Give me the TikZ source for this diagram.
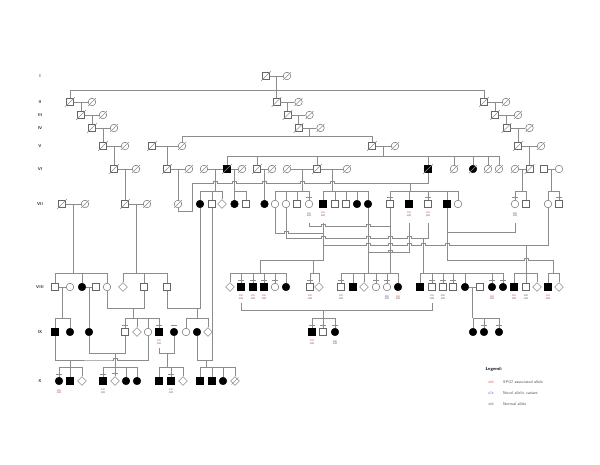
\documentclass[tikz,border=0pt]{standalone}
\usepackage{tikz}
\usetikzlibrary{shapes.geometric,calc}
\definecolor{spg}{RGB}{235,85,85}
\definecolor{nov}{RGB}{85,85,225}
\tikzstyle{link} = [draw=black!45, line width=0.45pt]
\tikzstyle{ind} = [draw=black!60, line width=0.45pt, inner sep=0pt, fill=white]
\tikzstyle{msq} = [ind, rectangle, minimum size=7pt]
\tikzstyle{fci} = [ind, circle, minimum size=7.6pt]
\tikzstyle{udi} = [ind, diamond, minimum size=9pt]
\tikzstyle{aff} = [fill=black, draw=black]
\tikzstyle{car} = [path picture={\fill (path picture bounding box.center) circle (0.9pt);}]
\tikzstyle{dec} = [append after command={(\tikzlastnode.south west) edge[link, shorten <=-1.6pt, shorten >=-1.6pt] (\tikzlastnode.north east)}]
\tikzstyle{gen} = [font=\sffamily\bfseries\fontsize{4.2}{5}\selectfont, text=black!80]
\tikzstyle{gtx} = [font=\sffamily\fontsize{2.6}{2.8}\selectfont, align=center, inner sep=0pt, text=black!60]
\tikzstyle{lgt} = [font=\sffamily\fontsize{4}{4.5}\selectfont, inner sep=0pt, anchor=west, text=black!70]

\newcommand{\mal}[4][]{\node[msq,#1] (#2) at (#3,#4) {};}
\newcommand{\fem}[4][]{\node[fci,#1] (#2) at (#3,#4) {};}
\newcommand{\unk}[4][]{\node[udi,#1] (#2) at (#3,#4) {};}
\newcommand{\cpl}[2]{\draw[link] (#1) -- (#2);}
\newcommand{\kid}[3]{\draw[link] ($(#1)!.5!(#2)$) -- (#3);}
% little bridge where a line jumps over another
\newcommand{\hop}[2]{-- ({#1-2},#2) -- ({#1-2},{#2-2}) -- ({#1+2},{#2-2}) -- ({#1+2},#2)}
\newcommand{\tick}[1]{\draw[link] ($(#1.north)+(-3.2,-3)$) -- ++(6.4,0);}
\newcommand{\gt}[3]{\node[gtx] at ($(#1.south)+(0,6.5)$) {\textcolor{#2}{486}\\[-0.4pt]\textcolor{#3}{488}};}

\begin{document}
\begin{tikzpicture}[x=1pt, y=-1pt]
\useasboundingbox (0,0) rectangle (600,464);

% generations
\foreach \g/\y in {I/76,II/102,III/115,IV/128,V/146,VI/169,VII/204,VIII/287,IX/332,X/381}
  \node[gen] (g\g) at (40,\y) {\g};

% I
\mal[dec]{a1}{266}{76} \fem[dec]{a2}{287}{76}
\cpl{a1}{a2}

% II
\mal[dec]{b1}{70}{102} \fem[dec]{b2}{92}{102}
\mal[dec]{b3}{276.5}{102} \fem[dec]{b4}{298.5}{102}
\mal[dec]{b5}{484}{102} \fem[dec]{b6}{506}{102}
\cpl{b1}{b2} \cpl{b3}{b4} \cpl{b5}{b6}
\draw[link] ($(a1)!.5!(a2)$) -- (b3);
\draw[link] (b1.north) |- (b5 |- 0,90) -- (b5.north);

% III
\mal[dec]{c1}{81}{115} \fem[dec]{c2}{103}{115}
\mal[dec]{c3}{287.5}{115} \fem[dec]{c4}{309.5}{115}
\mal[dec]{c5}{495}{115} \fem[dec]{c6}{518}{115}
\cpl{c1}{c2} \cpl{c3}{c4} \cpl{c5}{c6}
\kid{b1}{b2}{c1} \kid{b3}{b4}{c3} \kid{b5}{b6}{c5}

% IV
\mal[dec]{d1}{92}{128} \fem[dec]{d2}{114}{128}
\mal[dec]{d3}{298.5}{128} \fem[dec]{d4}{320.5}{128}
\mal[dec]{d5}{506.5}{128} \fem[dec]{d6}{529.5}{128}
\cpl{d1}{d2} \cpl{d3}{d4} \cpl{d5}{d6}
\kid{c1}{c2}{d1} \kid{c3}{c4}{d3} \kid{c5}{c6}{d5}

% V
\mal[dec]{e1}{103}{146} \fem[dec]{e2}{125}{146}
\mal[dec]{e3}{152}{146} \fem[dec]{e4}{182}{146}
\mal[dec]{e5}{372}{146} \fem[dec]{e6}{395}{146}
\mal[dec]{e7}{518}{146} \fem[dec]{e8}{541}{146}
\cpl{e1}{e2} \cpl{e3}{e4} \cpl{e5}{e6} \cpl{e7}{e8}
\kid{d1}{d2}{e1} \kid{d5}{d6}{e7}
\draw[link] ($(d3)!.5!(d4)$) -- (309.5,136);
\draw[link] (e4.north) |- (e5 |- 0,136) -- (e5.north);

% VI
\mal[dec]{f1}{114}{169} \fem[dec]{f2}{136}{169}
\mal[dec]{f3}{167}{169} \fem[dec]{f4}{189}{169}
\fem[dec]{f5}{204}{169} \mal[aff,dec]{f6}{227}{169} \fem[dec]{f7}{242}{169}
\mal[dec]{f8}{257}{169} \fem[dec]{f9}{272}{169}
\fem[dec]{f10}{287}{169} \mal[dec]{f11}{317}{169} \fem[dec]{f12}{347}{169}
\mal[aff,dec]{f13}{428}{169}
\fem[dec]{f14}{454}{169} \fem[aff,dec]{f15}{473}{169} \fem[dec]{f16}{488}{169} \fem[dec]{f17}{499}{169}
\fem[dec]{f18}{515}{169} \mal[dec]{f19}{529.5}{169}
\mal{f20}{544}{169} \fem{f21}{559}{169}
\cpl{f1}{f2} \cpl{f3}{f4} \cpl{f5}{f6} \cpl{f6}{f7} \cpl{f8}{f9}
\cpl{f10}{f11} \cpl{f11}{f12} \cpl{f18}{f19} \cpl{f20}{f21}
\kid{e1}{e2}{f1} \kid{e3}{e4}{f3} \kid{e7}{e8}{f19}
\draw[link] ($(e5)!.5!(e6)$) -- (383.5,156);
\draw[link] (f6.north) |- (f17 |- 0,156) -- (f17.north);
\foreach \n in {f8,f11,f13,f14,f15,f16} \draw[link] (\n.north) -- (\n |- 0,156);

% VII
\mal[dec]{g1}{62}{204} \fem[dec]{g2}{85}{204}
\mal[dec]{g3}{125}{204} \fem[dec]{g4}{147}{204}
\fem[dec]{g5}{178}{204}
\fem[aff]{g6}{200}{204} \mal{g7}{212}{204} \unk{g8}{222}{204} \fem[aff]{g9}{234.5}{204} \mal{g10}{246}{204}
\fem[aff]{g11}{264.5}{204}
\fem{g12}{275}{204} \fem{g13}{286}{204} \mal{g14}{297}{204} \fem[car]{g15}{309}{204}
\mal[aff]{g16}{323}{204} \mal{g17}{335}{204} \mal{g18}{346}{204} \fem[aff]{g19}{357}{204} \fem[aff]{g20}{368}{204}
\mal{g21}{390}{204} \mal[aff]{g22}{409}{204} \mal[car]{g23}{428}{204} \mal[aff]{g24}{447}{204} \fem{g25}{458}{204}
\fem{g26}{515}{204} \mal{g27}{526}{204} \fem{g28}{548}{204} \mal{g29}{559}{204}
\cpl{g1}{g2} \cpl{g3}{g4}
\kid{f1}{f2}{g3} \kid{f3}{f4}{g5} \kid{f8}{f9}{g11}
\draw[link] ($(f5)!.5!(f6)$) -- (215.5,191);
\draw[link] (g6.north) |- (g8 |- 0,191) -- (g8.north);
\draw[link] (g7.north) -- (g7 |- 0,191);
\draw[link] ($(f6)!.5!(f7)$) -- (234.5,191);
\draw[link] (g9.north) |- (g10 |- 0,191) -- (g10.north);
\draw[link] ($(f10)!.5!(f11)$) -- (302,191);
\draw[link] (g12.north) |- (g15 |- 0,191) -- (g15.north);
\foreach \n in {g13,g14} \draw[link] (\n.north) -- (\n |- 0,191);
\draw[link] ($(f11)!.5!(f12)$) -- (332,191);
\draw[link] (g16.north) |- (g20 |- 0,191) -- (g20.north);
\foreach \n in {g17,g18,g19} \draw[link] (\n.north) -- (\n |- 0,191);
\draw[link] (g5.south) -- (178,211) -- (192,211) -- (192,183) \hop{215.5}{183} \hop{234.5}{183}
  \hop{264.5}{183} \hop{302}{183} \hop{332}{183} -- (f13 |- 0,183) -- (f13.south);
\draw[link] (410,183) -- (410,191);
\draw[link] (g21.north) |- (g25 |- 0,191) -- (g25.north);
\foreach \n in {g22,g23,g24} \draw[link] (\n.north) -- (\n |- 0,191);
\draw[link] ($(f18)!.5!(f19)$) -- (522.25,191);
\draw[link] (g26.north) |- (g27 |- 0,191) -- (g27.north);
\draw[link] ($(f20)!.5!(f21)$) -- (551.5,191);
\draw[link] (g28.north) |- (g29 |- 0,191) -- (g29.north);
\gt{g15}{spg}{nov} \gt{g16}{spg}{nov} \gt{g22}{spg}{nov} \gt{g23}{spg}{black!60} \gt{g26}{black!60}{black!60}
\foreach \n in {g15,g21,g23,g26,g29} {\tick{\n}}

% VIII
\mal{h1}{55}{287} \fem{h2}{70}{287} \fem[aff]{h3}{82}{287} \mal{h4}{96}{287} \fem{h5}{107}{287}
\unk{h6}{123}{287} \mal{h7}{144}{287} \mal{h8}{167}{287}
\unk{h9}{230}{287} \mal[aff]{h10}{241}{287} \mal[aff]{h11}{253}{287} \mal[aff]{h12}{264}{287}
\fem[car]{h13}{275}{287} \fem[aff]{h14}{286}{287}
\mal[car]{h15}{310}{287} \unk{h16}{319}{287}
\mal[car]{h17}{341}{287} \mal[aff]{h18}{353}{287} \unk{h19}{364}{287} \fem[car]{h20}{376}{287}
\fem{h21}{387}{287} \fem[aff]{h22}{398}{287}
\mal[aff]{h23}{420}{287} \mal[car]{h24}{432}{287} \mal{h25}{443}{287} \mal{h26}{453}{287}
\fem[aff]{h27}{465}{287} \mal{h28}{480}{287} \fem[aff]{h29}{492}{287} \fem[aff]{h30}{503}{287}
\mal[aff]{h31}{514}{287} \mal{h32}{526}{287} \unk{h33}{537}{287}
\mal[aff]{h34}{548}{287} \unk{h35}{559}{287}
\cpl{h1}{h2} \cpl{h3}{h4} \cpl{h27}{h28}
\draw[link] ($(g1)!.5!(g2)$) -- (73.5,273);
\draw[link] (h1.north) |- (h5 |- 0,273) -- (h5.north);
\draw[link] (h3.north) -- (h3 |- 0,273);
\draw[link] ($(g3)!.5!(g4)$) -- (136,273);
\draw[link] (h6.north) |- (h8 |- 0,273) -- (h8.north);
\draw[link] (h7.north) -- (h7 |- 0,273);
% marriages of VII routed between the rows
\draw[link] (309,223) -- (309,226) \hop{323}{226} \hop{368}{226} -- (390,226);
\draw[link] (g21.south) -- (390,273);
\draw[link] (g12.south) |- (284,233) \hop{286}{233} -- (323,233);
\draw[link] (323,223) -- (323,260) -- (260,260) -- (260,273);
\draw[link] (313,260) -- (313,273);
\draw[link] (g13.south) |- (321,238) \hop{323}{238} \hop{368}{238} \hop{390}{238} \hop{409}{238} -- (428,238) -- (428,223);
\draw[link] (423,238) -- (423,273);
\draw[link] (323,245) \hop{368}{245} \hop{390}{245} \hop{409}{245} \hop{423}{245} \hop{447}{245} -- (548,245) -- (g28.south);
\draw[link] (526,245) -- (526,273);
\draw[link] (g20.south) -- (368,273);
\draw[link] (409,223) -- (409,252) \hop{390}{252} -- (368,252);
\draw[link] (g24.south) |- (515,232) -- (515,223);
\draw[link] (447,232) -- (447,260) \hop{526}{260} -- (553,260) -- (553,273);
\draw[link] (h9.north) |- (h14 |- 0,273) -- (h14.north);
\foreach \n in {h10,h11,h12,h13} \draw[link] (\n.north) -- (\n |- 0,273);
\draw[link] (h15.north) |- (h16 |- 0,273) -- (h16.north);
\draw[link] (h17.north) |- (h22 |- 0,273) -- (h22.north);
\foreach \n in {h18,h19,h20,h21} \draw[link] (\n.north) -- (\n |- 0,273);
\draw[link] (h23.north) |- (h30 |- 0,273) -- (h30.north);
\foreach \n in {h24,h25,h26,h27,h29} \draw[link] (\n.north) -- (\n |- 0,273);
\draw[link] (h31.north) |- (h33 |- 0,273) -- (h33.north);
\draw[link] (h32.north) -- (h32 |- 0,273);
\draw[link] (h34.north) |- (h35 |- 0,273) -- (h35.north);
\gt{h10}{spg}{black!60} \gt{h11}{spg}{black!60} \gt{h12}{spg}{black!60} \gt{h15}{spg}{black!60}
\gt{h17}{spg}{black!60} \gt{h21}{nov}{black!60} \gt{h22}{spg}{black!60} \gt{h24}{spg}{black!60}
\gt{h25}{black!60}{black!60} \gt{h29}{spg}{black!60} \gt{h31}{spg}{black!60}
\gt{h32}{black!60}{black!60} \gt{h34}{spg}{black!60}
\foreach \n in {h10,h11,h12,h13,h15,h17,h20,h21,h24,h25,h26,h29,h30} {\tick{\n}}

% IX
\mal[aff]{i1}{55}{332} \fem[aff]{i2}{70}{332} \fem[aff]{i3}{89}{332}
\mal[car]{i4}{125}{332} \unk{i5}{137}{332} \fem{i6}{148}{332} \mal[aff]{i7}{159}{332} \fem[aff]{i8}{174}{332}
\fem{i9}{186}{332} \fem[aff]{i10}{197}{332} \unk{i11}{208}{332}
\mal[aff]{i12}{312}{332} \mal{i13}{323}{332} \fem[aff]{i14}{335}{332}
\fem[aff]{i15}{473}{332} \fem[aff]{i16}{484}{332} \fem[aff]{i17}{499}{332}
\draw[link] ($(h1)!.5!(h2)$) -- (62.5,318);
\draw[link] (i1.north) |- (i2 |- 0,318) -- (i2.north);
\kid{h3}{h4}{i3}
\draw[link] (h5.south) |- (h7 |- 0,308) -- (h7.south);
\draw[link] (133,308) -- (133,318);
\draw[link] (i4.north) |- (i7 |- 0,318) -- (i7.north);
\foreach \n in {i5,i6} \draw[link] (\n.north) -- (\n |- 0,318);
\draw[link] (h8.south) |- (g6 |- 0,308) -- (g6.south);
\draw[link] (197,308) -- (197,318);
\draw[link] (i9.north) |- (i11 |- 0,318) -- (i11.north);
\draw[link] (241,303) |- (432,310) -- (432,303);
\draw[link] (323,310) -- (323,318);
\draw[link] (i12.north) |- (i14 |- 0,318) -- (i14.north);
\draw[link] (i13.north) -- (i13 |- 0,318);
\draw[link] ($(h27)!.5!(h28)$) -- (472.5,318);
\draw[link] (i15.north) |- (i17 |- 0,318) -- (i17.north);
\draw[link] (i16.north) -- (i16 |- 0,318);
\gt{i7}{spg}{black!60} \gt{i12}{spg}{black!60} \gt{i14}{nov}{black!60}
\foreach \n in {i4,i7,i8,i12,i13,i14,i16,i17} {\tick{\n}}

% X
\fem[aff]{j1}{59}{381} \mal[aff]{j2}{70}{381} \unk{j3}{82}{381}
\mal[aff]{j4}{103}{381} \unk{j5}{115}{381} \fem[aff]{j6}{126}{381} \fem[aff]{j7}{137}{381}
\mal[aff]{j8}{159}{381} \mal[aff]{j9}{171}{381} \unk{j10}{183}{381}
\mal[aff]{j11}{200}{381} \mal[aff]{j12}{212}{381} \fem[aff]{j13}{223}{381} \unk[dec]{j14}{235}{381}
\draw[link] (i3.south) |- (125,353) -- (i4.south);
\draw[link] (i1.south) |- (112,360) \hop{115}{360} -- (148,360) -- (i6.south);
\draw[link] (115,353) -- (115,367);
\draw[link] (70,360) -- (70,367);
\draw[link] (j1.north) |- (j3 |- 0,367) -- (j3.north);
\draw[link] (j2.north) -- (j2 |- 0,367);
\draw[link] (j4.north) |- (j7 |- 0,367) -- (j7.north);
\foreach \n in {j5,j6} \draw[link] (\n.north) -- (\n |- 0,367);
\draw[link] (159,348) |- (174,353) -- (i8.south);
\draw[link] (167,353) -- (167,367);
\draw[link] (j8.north) |- (j10 |- 0,367) -- (j10.north);
\draw[link] (j9.north) -- (j9 |- 0,367);
\draw[link] (g7.south) -- (212,360) -| (i10.south);
\draw[link] (206,360) -- (206,367);
\draw[link] (j11.north) |- (j14 |- 0,367) -- (j14.north);
\foreach \n in {j12,j13} \draw[link] (\n.north) -- (\n |- 0,367);
\gt{j1}{spg}{black!60} \gt{j4}{spg}{black!60} \gt{j9}{spg}{black!60}
\foreach \n in {j1,j4,j5,j9} {\tick{\n}}

% legend
\node[font=\sffamily\bfseries\fontsize{4.6}{5}\selectfont, anchor=west] (leg) at (482,369) {Legend:};
\node[gtx, text=spg, anchor=west, font=\sffamily\fontsize{3.4}{4}\selectfont] (lg1) at (488,382) {486};
\node[lgt] (lt1) at (503,382) {SPG7 associated allele};
\node[gtx, text=nov, anchor=west, font=\sffamily\fontsize{3.4}{4}\selectfont] (lg2) at (488,393) {474};
\node[lgt] (lt2) at (503,393) {Novel allelic variant};
\node[gtx, anchor=west, font=\sffamily\fontsize{3.4}{4}\selectfont] (lg3) at (488,404) {486};
\node[lgt] (lt3) at (503,404) {Normal allele};
\end{tikzpicture}
\end{document}
